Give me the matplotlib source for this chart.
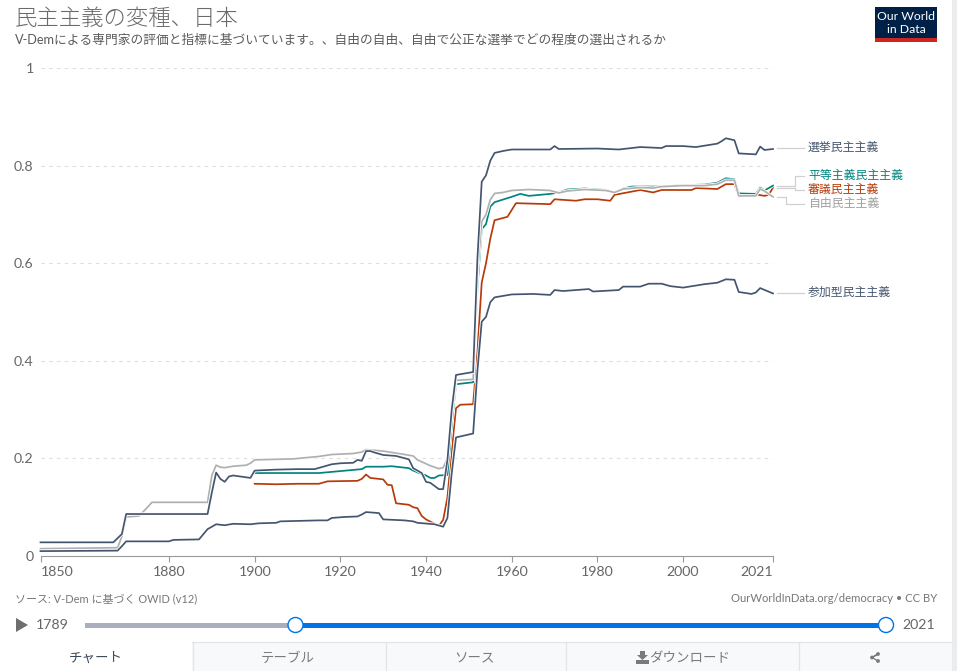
import matplotlib
matplotlib.use("Agg")
import matplotlib.pyplot as plt
import matplotlib.patheffects as pe
from matplotlib.patches import Rectangle, Circle, Polygon

W, H = 957, 671
JP = ["Lato", "Noto Sans CJK JP"]

# values (year, value) at the visible knots
years_electoral = [1850, 1867, 1869, 1870, 1889, 1890, 1891, 1892, 1893, 1894, 1895, 1899, 1900, 1905, 1910, 1914, 1916, 1918, 1920, 1923, 1924, 1925, 1926, 1927, 1928, 1930, 1933, 1936, 1937, 1939, 1940, 1941, 1943, 1944, 1945, 1946, 1947, 1951, 1952, 1953, 1954, 1955, 1956, 1958, 1960, 1969, 1970, 1971, 1980, 1985, 1990, 1995, 1996, 2000, 2003, 2008, 2009, 2010, 2012, 2013, 2017, 2018, 2019, 2021]
electoral = [.028, .028, .045, .086, .086, .13, .171, .158, .152, .163, .165, .16, .175, .177, .178, .178, .183, .188, .19, .191, .197, .195, .215, .215, .212, .207, .205, .198, .18, .17, .152, .15, .137, .137, .197, .30, .371, .377, .61, .767, .78, .81, .826, .83, .833, .833, .84, .834, .835, .833, .838, .836, .84, .84, .838, .845, .85, .856, .852, .825, .823, .839, .832, .834]

years_liberal = [1850, 1868, 1869, 1870, 1873, 1875, 1876, 1889, 1890, 1891, 1892, 1893, 1895, 1898, 1899, 1900, 1909, 1915, 1918, 1923, 1925, 1926, 1930, 1935, 1937, 1938, 1939, 1941, 1943, 1944, 1945, 1946, 1947, 1951, 1952, 1953, 1954, 1955, 1956, 1958, 1960, 1964, 1969, 1971, 1973, 1977, 1982, 1984, 1986, 1990, 1993, 1995, 2000, 2005, 2008, 2010, 2012, 2013, 2017, 2018, 2019, 2021]
liberal = [.015, .017, .04, .08, .082, .1, .11, .11, .165, .186, .182, .181, .184, .186, .19, .197, .199, .204, .208, .21, .213, .218, .215, .208, .205, .197, .193, .185, .179, .181, .2, .29, .36, .362, .58, .685, .70, .73, .743, .745, .749, .751, .749, .744, .748, .751, .749, .745, .752, .755, .754, .757, .759, .759, .762, .77, .77, .738, .738, .752, .748, .736]

years_egal = [1900, 1905, 1910, 1915, 1920, 1925, 1926, 1930, 1932, 1936, 1937, 1939, 1940, 1941, 1942, 1943, 1945, 1946, 1947, 1951, 1952, 1953, 1954, 1955, 1956, 1960, 1962, 1964, 1969, 1971, 1973, 1977, 1982, 1984, 1986, 1988, 1990, 1993, 1995, 2000, 2005, 2008, 2010, 2012, 2013, 2017, 2018, 2019, 2021]
egal = [.17, .17, .17, .17, .174, .178, .183, .183, .184, .18, .175, .168, .165, .16, .16, .165, .166, .27, .352, .356, .55, .67, .68, .716, .725, .736, .742, .738, .742, .745, .751, .753, .75, .745, .753, .757, .757, .757, .757, .76, .761, .765, .774, .772, .743, .742, .755, .749, .759]

years_delib = [1900, 1905, 1910, 1915, 1917, 1924, 1925, 1926, 1927, 1930, 1931, 1932, 1933, 1936, 1937, 1938, 1939, 1940, 1942, 1943, 1944, 1945, 1946, 1947, 1948, 1951, 1952, 1953, 1954, 1955, 1956, 1959, 1961, 1969, 1970, 1975, 1977, 1980, 1983, 1984, 1987, 1990, 1993, 1995, 2002, 2003, 2008, 2010, 2012, 2013, 2017, 2019, 2020, 2021]
delib = [.148, .147, .148, .148, .153, .154, .158, .167, .16, .157, .146, .145, .108, .105, .1, .098, .082, .075, .066, .062, .074, .12, .217, .303, .31, .311, .42, .56, .60, .65, .688, .695, .723, .721, .731, .728, .731, .731, .728, .74, .745, .75, .745, .75, .75, .754, .752, .762, .762, .738, .741, .738, .74, .755]

years_partic = [1850, 1868, 1869, 1870, 1880, 1881, 1887, 1889, 1891, 1893, 1895, 1899, 1901, 1905, 1906, 1915, 1917, 1918, 1921, 1924, 1925, 1926, 1929, 1930, 1935, 1937, 1938, 1942, 1944, 1945, 1946, 1947, 1951, 1952, 1953, 1954, 1955, 1956, 1958, 1960, 1965, 1969, 1970, 1972, 1975, 1978, 1979, 1985, 1986, 1990, 1992, 1995, 1997, 2000, 2005, 2008, 2010, 2012, 2013, 2016, 2017, 2018, 2021]
partic = [.01, .011, .02, .03, .03, .033, .034, .055, .065, .063, .066, .065, .067, .068, .071, .073, .073, .078, .08, .081, .085, .09, .088, .075, .073, .071, .068, .065, .06, .078, .17, .243, .251, .38, .48, .49, .52, .53, .533, .536, .537, .535, .545, .543, .545, .547, .542, .545, .552, .552, .558, .558, .553, .55, .557, .56, .567, .566, .541, .537, .54, .549, .538]

x_ticks = [1850, 1880, 1900, 1920, 1940, 1960, 1980, 2000, 2021]
y_ticks = [0, 0.2, 0.4, 0.6, 0.8, 1]
y_labels = ["0", "0.2", "0.4", "0.6", "0.8", "1"]

DARK = "#44566f"
TEAL = "#00847e"
RED = "#b83a08"
GRAY = "#b0b0b0"
TXT = "#666666"

fig = plt.figure(figsize=(W / 100, H / 100), dpi=100, facecolor="white")

# overlay in pixel coordinates for the page furniture
bg = fig.add_axes([0, 0, 1, 1])
bg.set_xlim(0, W)
bg.set_ylim(H, 0)
bg.axis("off")

ax = fig.add_axes([40.5 / W, 1 - 556 / H, (773 - 40.5) / W, (556 - 68) / H])
ax.patch.set_alpha(0)
ax.set_xlim(1850, 2021)
ax.set_ylim(0, 1)
for s in ["top", "right", "left"]:
    ax.spines[s].set_visible(False)
ax.spines["bottom"].set_color("#999999")
ax.spines["bottom"].set_linewidth(0.8)
ax.set_axisbelow(True)
ax.grid(axis="y", color="#dddddd", linestyle=(0, (3, 4)), linewidth=0.8)
ax.set_xticks(x_ticks)
ax.set_xticklabels([str(t) for t in x_ticks], family=JP, fontsize=10.2, color=TXT)
ax.get_xticklabels()[0].set_ha("left")
ax.get_xticklabels()[-1].set_ha("right")
ax.set_yticks(y_ticks)
ax.set_yticklabels(y_labels, family=JP, fontsize=10.2, color=TXT)
ax.tick_params(axis="x", length=4, width=0.8, color="#999999", pad=3)
ax.tick_params(axis="y", length=0, pad=5)

halo = [pe.Stroke(linewidth=2.4, foreground="white"), pe.Normal()]
ax.plot(years_delib, delib, color=RED, lw=1.25, path_effects=halo, clip_on=False)
ax.plot(years_egal, egal, color=TEAL, lw=1.25, path_effects=halo, clip_on=False)
ax.plot(years_liberal, liberal, color=GRAY, lw=1.25, path_effects=halo, clip_on=False)
ax.plot(years_electoral, electoral, color=DARK, lw=1.25, path_effects=halo, clip_on=False)
ax.plot(years_partic, partic, color=DARK, lw=1.25, path_effects=halo, clip_on=False)

# series labels and their connectors
lab_font = dict(family=JP, fontsize=8.55, va="center", ha="left")
bg.text(808, 147.5, "選挙民主主義", color=DARK, **lab_font)
bg.text(808, 175.5, "平等主義民主主義", color=TEAL, **lab_font)
bg.text(808, 189.5, "審議民主主義", color=RED, **lab_font)
bg.text(808, 203.5, "自由民主主義", color="#a0a0a0", **lab_font)
bg.text(808, 292.5, "参加型民主主義", color=DARK, **lab_font)
conn = dict(color="#d0d0d0", lw=0.9)
bg.plot([777, 804], [148, 148], **conn)
bg.plot([777, 804], [293, 293], **conn)
bg.plot([777, 795, 795, 804], [186, 186, 175.5, 175.5], **conn)
bg.plot([777, 795, 795, 804], [188, 188, 190, 190], **conn)
bg.plot([777, 786, 786, 804], [197, 197, 204, 204], **conn)

# header
bg.text(15, 19, "民主主義の変種、日本", family=["Noto Sans CJK JP"], fontweight="light",
        fontsize=16.1, color="#6a6a6a", va="center", ha="left")
bg.text(15, 40, "V-Demによる専門家の評価と指標に基づいています。、自由の自由、自由で公正な選挙でどの程度の選出されるか",
        family=JP, fontsize=9.17, color="#5b5b5b", va="center", ha="left")

# logo
bg.add_patch(Rectangle((875, 7), 62, 35, fc="#002147", ec="none"))
bg.add_patch(Rectangle((875, 38), 62, 4, fc="#ce261e", ec="none"))
bg.text(906, 23, "Our World\nin Data", family=JP, fontsize=8.8, color="white",
        ha="center", va="center", linespacing=1.2)

# footer
bg.text(15, 599, "ソース: V-Dem に基づく OWID (v12)", family=JP, fontsize=7.9, color="#777777", va="center")
bg.text(937, 599, "OurWorldInData.org/democracy • CC BY", family=JP, fontsize=8.1, color="#777777",
        va="center", ha="right")

# timeline
bg.add_patch(Polygon([(16, 618), (28, 625), (16, 632)], fc="#6e6e6e", ec="none"))
bg.text(36, 625, "1789", family=JP, fontsize=10.2, color=TXT, va="center")
bg.text(902, 625, "2021", family=JP, fontsize=10.2, color=TXT, va="center")
bg.add_patch(Rectangle((85, 622.5), 210, 5, fc="#a9afbd", ec="none"))
bg.add_patch(Rectangle((295, 622.5), 591, 5, fc="#0073e6", ec="none"))
for cx in [295.5, 886]:
    bg.add_patch(Circle((cx, 625), 7.5, fc="white", ec="#0073e6", lw=1.0, zorder=3))

# tabs
bg.add_patch(Rectangle((192, 641.5), 760, 30, fc="#f8f9fa", ec="none"))
bg.plot([192, 952], [641.5, 641.5], color="#e2e4e8", lw=0.9)
for tx in [192.5, 385.5, 565.5, 798.5]:
    bg.plot([tx, tx], [641.5, 671], color="#e2e4e8", lw=0.9)
tab_font = dict(family=JP, fontsize=9.7, va="center", ha="center")
bg.text(96, 658, "チャート", color="#3a4a5c", **tab_font)
bg.text(288, 658, "テーブル", color="#7a7a7a", **tab_font)
bg.text(475, 658, "ソース", color="#7a7a7a", **tab_font)
bg.text(690, 658, "ダウンロード", color="#7a7a7a", **tab_font)
bg.add_patch(Polygon([(640, 651), (645, 651), (645, 655), (648, 655), (642.5, 660), (637, 655), (640, 655)],
                     fc="#7a7a7a", ec="none"))
bg.add_patch(Rectangle((636, 660), 13, 4, fc="#7a7a7a", ec="none"))
bg.plot([872, 878, 872, 878], [657.5, 654, 657.5, 661], color="#7a7a7a", lw=0.9)
for cx, cy in [(872, 657.5), (878, 654), (878, 661)]:
    bg.add_patch(Circle((cx, cy), 1.9, fc="#7a7a7a", ec="none", zorder=3))

# page edge
bg.add_patch(Rectangle((952, 0), 5, H, fc="#ececec", ec="none"))

fig.savefig("out.png", dpi=100)
